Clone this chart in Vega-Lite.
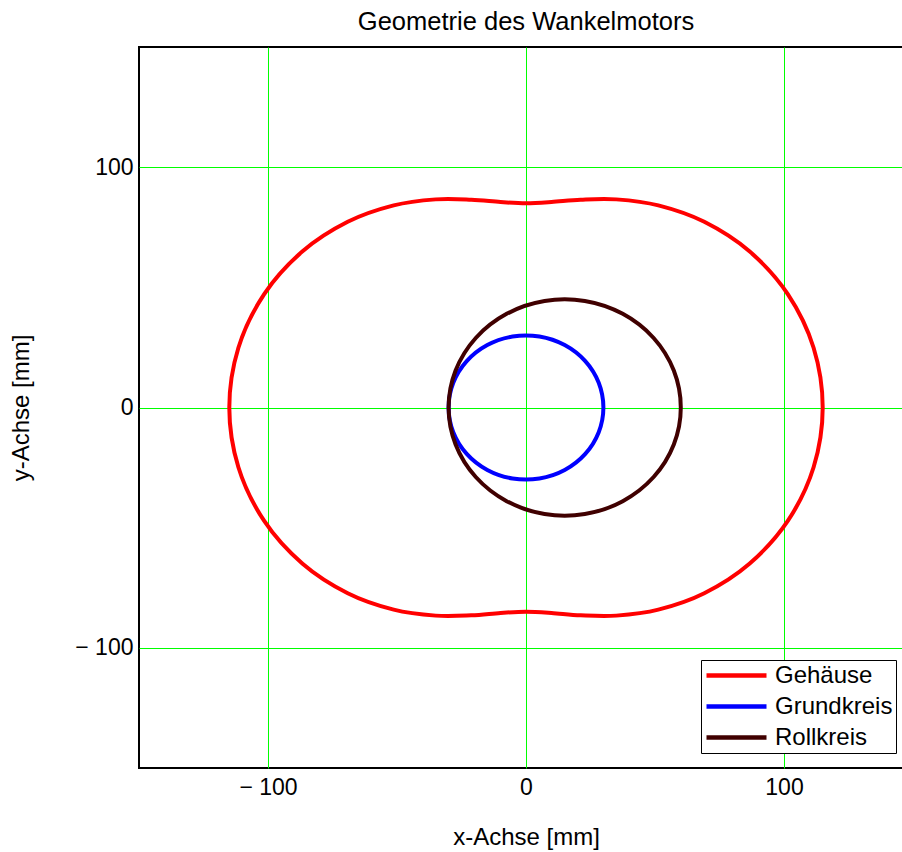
{
  "$schema": "https://vega.github.io/schema/vega-lite/v6.json",
  "autosize": "none",
  "padding": {"left": 139, "top": 47, "right": 0, "bottom": 84},
  "width": 774,
  "height": 721,
  "title": {"text": "Geometrie des Wankelmotors", "font": "Liberation Sans", "fontSize": 25.5, "fontWeight": "normal", "color": "black", "offset": 12, "anchor": "middle"},
  "config": {
    "view": {"stroke": "black", "strokeWidth": 2},
    "axis": {"domain": false, "ticks": false, "grid": true, "gridColor": "#00ff00", "gridWidth": 1, "gridOpacity": 1,
      "labelFont": "Liberation Sans", "labelFontSize": 23, "labelColor": "black",
      "titleFont": "Liberation Sans", "titleFontSize": 24, "titleFontWeight": "normal", "titleColor": "black"}
  },
  "data": {"values": [
    {"k":"Gehäuse","i":0,"x":115,"y":0},
    {"k":"Gehäuse","i":1,"x":111.47,"y":24.87},
    {"k":"Gehäuse","i":2,"x":101.47,"y":47.19},
    {"k":"Gehäuse","i":3,"x":86.60,"y":65},
    {"k":"Gehäuse","i":4,"x":69.10,"y":77.27},
    {"k":"Gehäuse","i":5,"x":51.29,"y":84.10},
    {"k":"Gehäuse","i":6,"x":35,"y":86.60},
    {"k":"Gehäuse","i":7,"x":21.21,"y":86.47},
    {"k":"Gehäuse","i":8,"x":9.87,"y":85.49},
    {"k":"Gehäuse","i":9,"x":0,"y":85},
    {"k":"Gehäuse","i":10,"x":-9.87,"y":85.49},
    {"k":"Gehäuse","i":11,"x":-21.21,"y":86.47},
    {"k":"Gehäuse","i":12,"x":-35,"y":86.60},
    {"k":"Gehäuse","i":13,"x":-51.29,"y":84.10},
    {"k":"Gehäuse","i":14,"x":-69.10,"y":77.27},
    {"k":"Gehäuse","i":15,"x":-86.60,"y":65},
    {"k":"Gehäuse","i":16,"x":-101.47,"y":47.19},
    {"k":"Gehäuse","i":17,"x":-111.47,"y":24.87},
    {"k":"Gehäuse","i":18,"x":-115,"y":0},
    {"k":"Gehäuse","i":19,"x":-111.47,"y":-24.87},
    {"k":"Gehäuse","i":20,"x":-101.47,"y":-47.19},
    {"k":"Gehäuse","i":21,"x":-86.60,"y":-65},
    {"k":"Gehäuse","i":22,"x":-69.10,"y":-77.27},
    {"k":"Gehäuse","i":23,"x":-51.29,"y":-84.10},
    {"k":"Gehäuse","i":24,"x":-35,"y":-86.60},
    {"k":"Gehäuse","i":25,"x":-21.21,"y":-86.47},
    {"k":"Gehäuse","i":26,"x":-9.87,"y":-85.49},
    {"k":"Gehäuse","i":27,"x":0,"y":-85},
    {"k":"Gehäuse","i":28,"x":9.87,"y":-85.49},
    {"k":"Gehäuse","i":29,"x":21.21,"y":-86.47},
    {"k":"Gehäuse","i":30,"x":35,"y":-86.60},
    {"k":"Gehäuse","i":31,"x":51.29,"y":-84.10},
    {"k":"Gehäuse","i":32,"x":69.10,"y":-77.27},
    {"k":"Gehäuse","i":33,"x":86.60,"y":-65},
    {"k":"Gehäuse","i":34,"x":101.47,"y":-47.19},
    {"k":"Gehäuse","i":35,"x":111.47,"y":-24.87},
    {"k":"Grundkreis","i":0,"x":30,"y":0},
    {"k":"Grundkreis","i":1,"x":28.19,"y":10.26},
    {"k":"Grundkreis","i":2,"x":22.98,"y":19.28},
    {"k":"Grundkreis","i":3,"x":15,"y":25.98},
    {"k":"Grundkreis","i":4,"x":5.21,"y":29.54},
    {"k":"Grundkreis","i":5,"x":-5.21,"y":29.54},
    {"k":"Grundkreis","i":6,"x":-15,"y":25.98},
    {"k":"Grundkreis","i":7,"x":-22.98,"y":19.28},
    {"k":"Grundkreis","i":8,"x":-28.19,"y":10.26},
    {"k":"Grundkreis","i":9,"x":-30,"y":0},
    {"k":"Grundkreis","i":10,"x":-28.19,"y":-10.26},
    {"k":"Grundkreis","i":11,"x":-22.98,"y":-19.28},
    {"k":"Grundkreis","i":12,"x":-15,"y":-25.98},
    {"k":"Grundkreis","i":13,"x":-5.21,"y":-29.54},
    {"k":"Grundkreis","i":14,"x":5.21,"y":-29.54},
    {"k":"Grundkreis","i":15,"x":15,"y":-25.98},
    {"k":"Grundkreis","i":16,"x":22.98,"y":-19.28},
    {"k":"Grundkreis","i":17,"x":28.19,"y":-10.26},
    {"k":"Rollkreis","i":0,"x":60,"y":0},
    {"k":"Rollkreis","i":1,"x":57.29,"y":15.39},
    {"k":"Rollkreis","i":2,"x":49.47,"y":28.93},
    {"k":"Rollkreis","i":3,"x":37.5,"y":38.97},
    {"k":"Rollkreis","i":4,"x":22.81,"y":44.32},
    {"k":"Rollkreis","i":5,"x":7.19,"y":44.32},
    {"k":"Rollkreis","i":6,"x":-7.5,"y":38.97},
    {"k":"Rollkreis","i":7,"x":-19.47,"y":28.93},
    {"k":"Rollkreis","i":8,"x":-27.29,"y":15.39},
    {"k":"Rollkreis","i":9,"x":-30,"y":0},
    {"k":"Rollkreis","i":10,"x":-27.29,"y":-15.39},
    {"k":"Rollkreis","i":11,"x":-19.47,"y":-28.93},
    {"k":"Rollkreis","i":12,"x":-7.5,"y":-38.97},
    {"k":"Rollkreis","i":13,"x":7.19,"y":-44.32},
    {"k":"Rollkreis","i":14,"x":22.81,"y":-44.32},
    {"k":"Rollkreis","i":15,"x":37.5,"y":-38.97},
    {"k":"Rollkreis","i":16,"x":49.47,"y":-28.93},
    {"k":"Rollkreis","i":17,"x":57.29,"y":-15.39}
  ]},
  "mark": {"type": "line", "interpolate": "cardinal-closed", "strokeWidth": 4, "clip": true},
  "encoding": {
    "x": {"field": "x", "type": "quantitative", "scale": {"domain": [-150, 150], "nice": false, "zero": false},
      "axis": {"values": [-100, 0, 100], "title": "x-Achse [mm]", "labelPadding": 8, "titlePadding": 26, "labelDx": 5,
        "labelExpr": "datum.value < 0 ? '− ' + format(-datum.value, 'd') : format(datum.value, 'd')"}},
    "y": {"field": "y", "type": "quantitative", "scale": {"domain": [-150, 150], "nice": false, "zero": false},
      "axis": {"values": [-100, 0, 100], "title": "y-Achse [mm]", "labelPadding": 6, "titlePadding": 41,
        "labelExpr": "datum.value < 0 ? '− ' + format(-datum.value, 'd') : format(datum.value, 'd')"}},
    "color": {"field": "k", "type": "nominal",
      "scale": {"domain": ["Gehäuse", "Grundkreis", "Rollkreis"], "range": ["#ff0000", "#0000ff", "#400000"]},
      "legend": {"title": null, "orient": "none", "legendX": 562, "legendY": 613,
        "fillColor": "white", "strokeColor": "black", "padding": 3,
        "symbolType": "M-1,0H5", "symbolSize": 400, "symbolStrokeWidth": 4.5,
        "labelFont": "Liberation Sans", "labelFontSize": 24, "labelColor": "black", "labelOffset": 46, "rowPadding": 6}},
    "order": {"field": "i", "type": "quantitative"}
  }
}
